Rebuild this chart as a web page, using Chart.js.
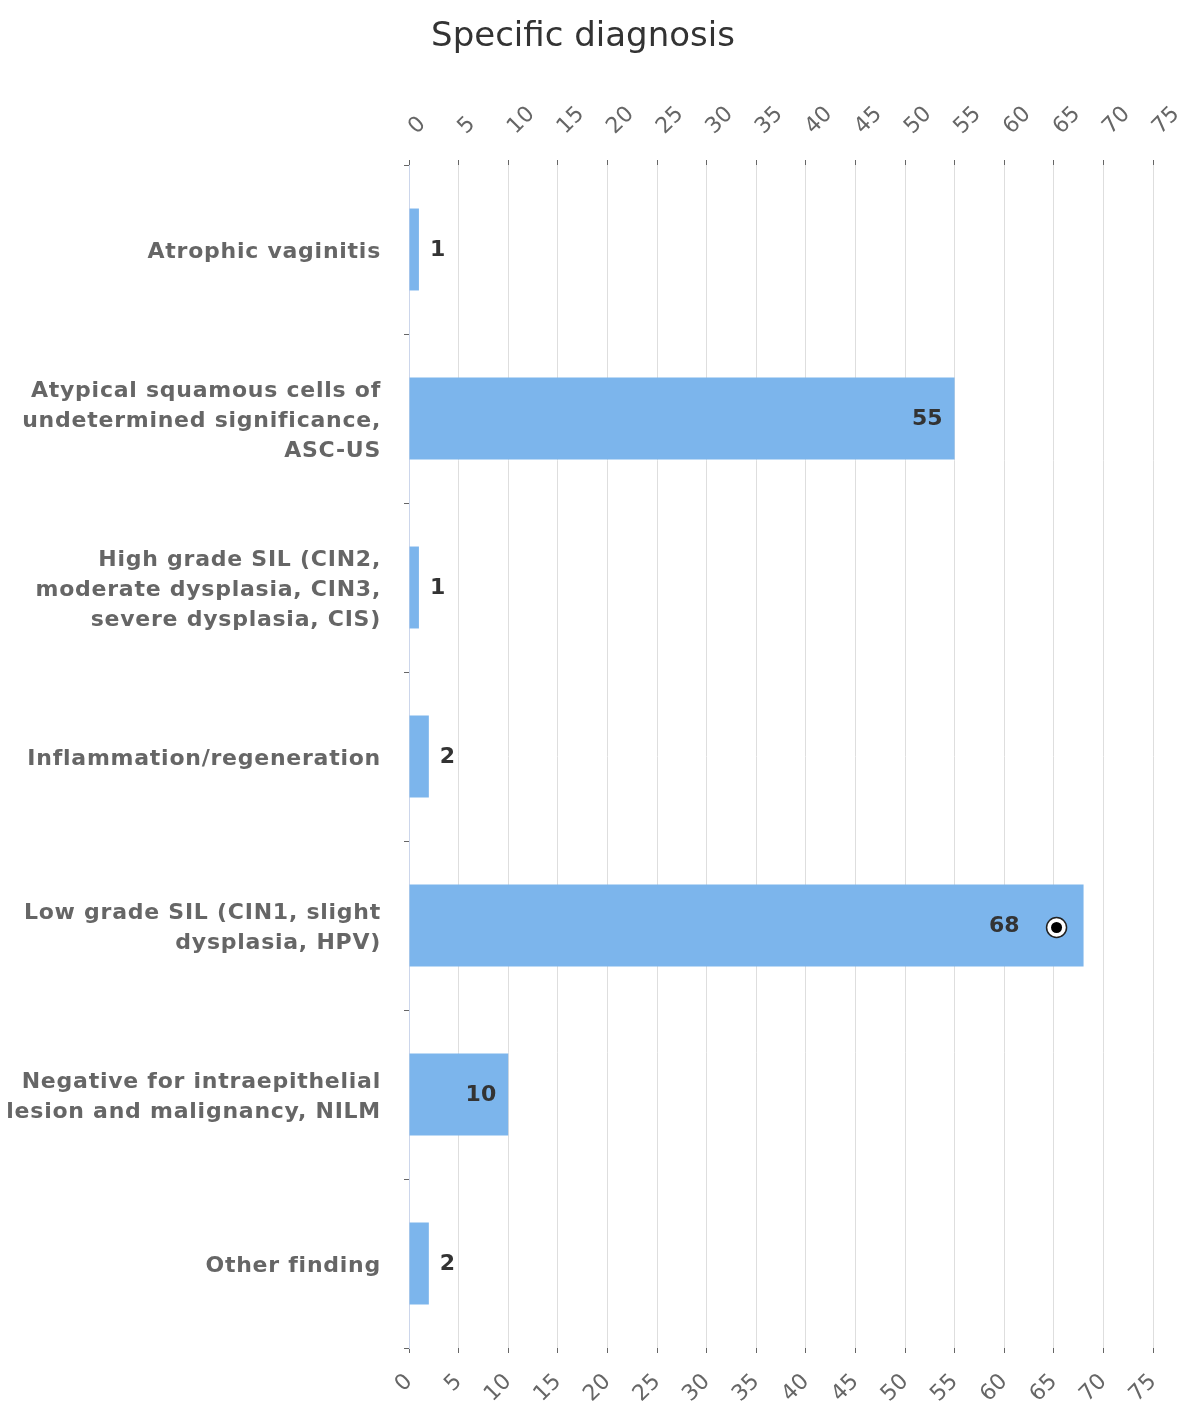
<!DOCTYPE html>
<html>
<head>
<meta charset="utf-8">
<script src="https://cdn.jsdelivr.net/npm/chart.js@4/dist/chart.umd.min.js"></script>
<style>
  html, body { margin: 0; padding: 0; background: #ffffff; }
  #wrap { width: 1177px; height: 1403px; position: relative; }
</style>
</head>
<body>
<div id="wrap"><canvas id="diagChart"></canvas></div>
<script>
// Datos del gráfico
const titulo = 'Specific diagnosis';
const categorias = [
    'Atrophic vaginitis',
    ['Atypical squamous cells of', 'undetermined significance,', 'ASC-US'],
    ['High grade SIL (CIN2,', 'moderate dysplasia, CIN3,', 'severe dysplasia, CIS)'],
    'Inflammation/regeneration',
    ['Low grade SIL (CIN1, slight', 'dysplasia, HPV)'],
    ['Negative for intraepithelial', 'lesion and malignancy, NILM'],
    'Other finding'
];
const valores = [1, 55, 1, 2, 68, 10, 2];
const ejeMin = 0;
const ejeMax = 75;
const ejePaso = 5;
const indiceMarcador = 4;   // barra marcada con el círculo

const FUENTE = "'DejaVu Sans', sans-serif";

// Título dibujado a mano (centrado como en el original)
const tituloPlugin = {
    id: 'tituloManual',
    afterDraw(chart) {
        const ctx = chart.ctx;
        ctx.save();
        ctx.font = '34px ' + FUENTE;
        ctx.fillStyle = '#333333';
        ctx.textAlign = 'center';
        ctx.textBaseline = 'middle';
        ctx.fillText(titulo, 583, 37);
        ctx.restore();
    }
};

// Etiquetas de categorías con algo de espaciado entre letras
const categoriasPlugin = {
    id: 'categorias',
    afterDraw(chart) {
        const ctx = chart.ctx;
        const escala = chart.scales.y;
        ctx.save();
        ctx.font = 'bold 22px ' + FUENTE;
        ctx.letterSpacing = '0.75px';
        ctx.fillStyle = '#666666';
        ctx.textAlign = 'right';
        ctx.textBaseline = 'middle';
        categorias.forEach((cat, i) => {
            const lineas = Array.isArray(cat) ? cat : [cat];
            const yc = escala.getPixelForTick(i) + 3;
            const y0 = yc - (lineas.length - 1) * 15;
            lineas.forEach((linea, j) => {
                ctx.fillText(linea, 381, y0 + j * 30);
            });
        });
        ctx.restore();
    }
};

// Etiquetas de valor y marcador
const etiquetasPlugin = {
    id: 'etiquetas',
    afterDatasetsDraw(chart) {
        const ctx = chart.ctx;
        const meta = chart.getDatasetMeta(0);
        ctx.save();
        ctx.font = 'bold 22px ' + FUENTE;
        ctx.textBaseline = 'middle';
        meta.data.forEach((bar, i) => {
            const texto = String(valores[i]);
            const ancho = ctx.measureText(texto).width;
            const inicio = bar.base;
            const fin = bar.x;
            let extra = 0;
            if (i === indiceMarcador) {
                extra = 52;
                const mx = fin - 27;
                const my = bar.y + 2;
                ctx.beginPath();
                ctx.arc(mx, my, 10, 0, Math.PI * 2);
                ctx.fillStyle = '#ffffff';
                ctx.fill();
                ctx.lineWidth = 1.5;
                ctx.strokeStyle = '#222';
                ctx.stroke();
                ctx.beginPath();
                ctx.arc(mx, my, 5.5, 0, Math.PI * 2);
                ctx.fillStyle = '#000';
                ctx.fill();
            }
            ctx.fillStyle = '#333333';
            if (fin - inicio > ancho + 26 + extra) {
                ctx.textAlign = 'right';
                ctx.fillText(texto, fin - 12 - extra, bar.y + 1);
            } else {
                ctx.textAlign = 'left';
                ctx.fillText(texto, fin + 11, bar.y + 1);
            }
        });
        ctx.restore();
    }
};

function fijarEjeX(alto) {
    return function (scale) {
        scale.height = alto;
        scale.paddingLeft = 0;
        scale.paddingRight = 0;
    };
}

new Chart(document.getElementById('diagChart'), {
    type: 'bar',
    data: {
        labels: categorias,
        datasets: [{
            data: valores,
            backgroundColor: '#7cb5ec',
            borderWidth: 0,
            barPercentage: 0.485,
            categoryPercentage: 1,
            xAxisID: 'x'
        }]
    },
    options: {
        indexAxis: 'y',
        responsive: true,
        maintainAspectRatio: false,
        animation: false,
        layout: { padding: { left: 0, right: 24, top: 56, bottom: 0 } },
        scales: {
            x: {
                position: 'bottom',
                min: ejeMin,
                max: ejeMax,
                afterFit: fijarEjeX(55),
                border: { display: false },
                grid: { color: '#dedede', tickColor: '#666666', tickLength: 5, lineWidth: 1 },
                ticks: {
                    stepSize: ejePaso,
                    autoSkip: false,
                    minRotation: 45,
                    maxRotation: 45,
                    padding: 16,
                    color: '#666666',
                    font: { family: FUENTE, size: 22 }
                }
            },
            x2: {
                position: 'top',
                min: ejeMin,
                max: ejeMax,
                afterFit: fijarEjeX(109),
                border: { display: false },
                grid: { drawOnChartArea: false, tickColor: '#666666', tickLength: 5 },
                ticks: {
                    stepSize: ejePaso,
                    autoSkip: false,
                    minRotation: 45,
                    maxRotation: 45,
                    padding: 20,
                    labelOffset: 22,
                    color: '#666666',
                    font: { family: FUENTE, size: 22 }
                }
            },
            y: {
                afterFit(scale) {
                    scale.width = 409;
                    scale.paddingTop = 0;
                    scale.paddingBottom = 0;
                },
                border: { color: '#ccd6eb', width: 1 },
                grid: { drawOnChartArea: false, offset: true, tickColor: '#666666', tickLength: 5 },
                ticks: { display: false }
            }
        },
        plugins: {
            legend: { display: false },
            tooltip: { enabled: false },
            title: { display: false }
        }
    },
    plugins: [etiquetasPlugin, categoriasPlugin, tituloPlugin]
});
</script>
</body>
</html>
